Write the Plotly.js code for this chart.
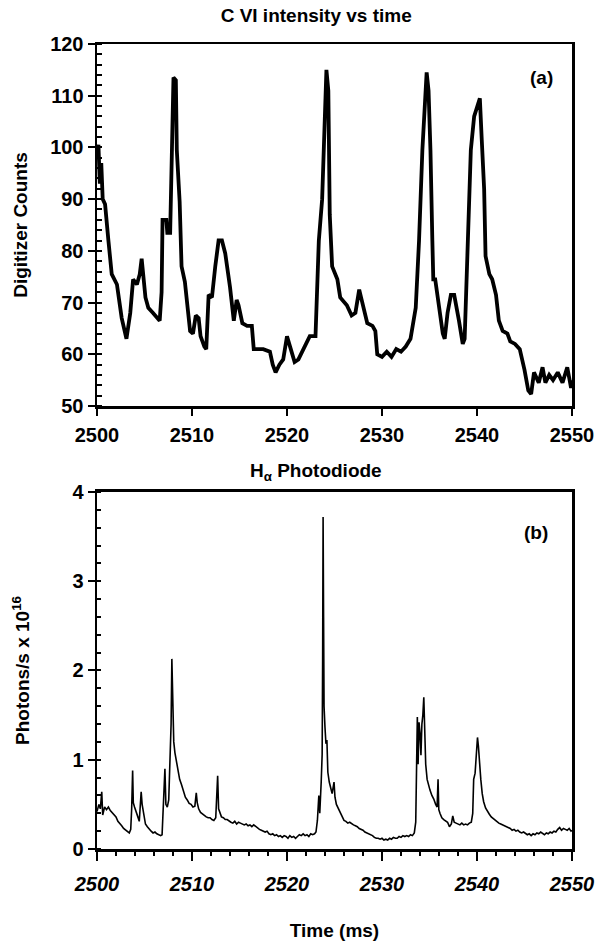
<!DOCTYPE html>
<html>
<head>
<meta charset="utf-8">
<script src="https://cdn.plot.ly/plotly-3.0.1.min.js"></script>
<style>html,body{margin:0;padding:0;background:#fff;}#chart{width:600px;height:944px;}</style>
</head>
<body>
<div id="chart"></div>
<script>
// ---- Panel (a): C VI intensity (digitizer counts) ----
const cviTime = [2500.0,2500.15,2500.3,2500.45,2500.6,2500.85,2501.2,2501.55,2502.1,2502.6,2503.1,2503.5,2503.8,2504.2,2504.5,2504.7,2505.1,2505.4,2505.9,2506.6,2506.8,2506.9,2507.3,2507.4,2507.7,2507.9,2508.05,2508.3,2508.4,2508.7,2508.9,2509.25,2509.8,2510.1,2510.4,2510.7,2510.9,2511.3,2511.5,2511.75,2512.1,2512.45,2512.8,2513.15,2513.5,2514.0,2514.4,2514.7,2514.9,2515.3,2515.8,2516.3,2516.5,2517.0,2517.5,2518.2,2518.5,2518.8,2519.2,2519.6,2520.0,2520.4,2520.8,2521.2,2521.6,2522.0,2522.4,2523.0,2523.35,2523.7,2523.9,2524.15,2524.35,2524.5,2524.75,2525.3,2525.6,2526.3,2526.8,2527.2,2527.6,2528.0,2528.45,2529.0,2529.3,2529.5,2530.0,2530.5,2531.0,2531.5,2532.0,2532.5,2533.0,2533.55,2533.9,2534.25,2534.5,2534.7,2534.9,2535.1,2535.3,2535.4,2535.6,2536.0,2536.4,2536.6,2536.9,2537.25,2537.6,2538.1,2538.5,2538.7,2539.0,2539.35,2539.7,2540.1,2540.3,2540.5,2540.75,2540.9,2541.3,2541.6,2542.0,2542.3,2542.7,2543.2,2543.5,2544.0,2544.5,2545.0,2545.4,2545.7,2546.0,2546.5,2546.9,2547.2,2547.6,2548.0,2548.5,2549.0,2549.5,2549.9,2550.0];
const cviCounts = [99,100.5,93,97,90,89,82,75.5,73.5,67,63,68,74.5,73.5,75.5,78.5,71,69,68,66.5,72,86,86,83.5,83.5,99.5,113.5,113,99.5,89.5,77,74,64.5,64,67.5,67,63.5,61.5,61,71.5,71,77,82,82,79.5,73,66.5,70.5,69.5,66,65.5,65.5,61,61,61,60.5,58,56.5,58,59,63.5,61,58.5,59,60.5,62,63.5,63.5,82,90,99.5,115,111,87,77,74.5,71,69.5,67.5,68,72.5,69.5,66,65.5,64.5,60,59.5,60.5,59.5,61,60.5,61.5,63,69,82,99.5,108,114.5,111,99.5,82,74.5,74.5,69,64,63,68,71.5,71.5,66.5,62,63,79,99.5,106,108,109.5,101.5,92,79,75.5,74.5,71.5,66.5,64.5,64,62.5,62,61,57,53,52.3,56.5,54.5,57.5,54.5,56,55,56.5,54.5,57.5,53.5,55];

// ---- Panel (b): H-alpha photodiode (photons/s x 1e16) ----
const haTime = [2500.0,2500.2,2500.35,2500.5,2500.6,2500.8,2501.0,2501.2,2501.4,2501.6,2501.8,2502.0,2502.2,2502.4,2502.6,2502.8,2503.0,2503.2,2503.4,2503.55,2503.65,2503.75,2503.82,2503.95,2504.1,2504.3,2504.45,2504.55,2504.65,2504.75,2504.9,2505.1,2505.3,2505.5,2505.7,2505.9,2506.1,2506.3,2506.5,2506.7,2506.85,2506.95,2507.05,2507.15,2507.25,2507.4,2507.55,2507.7,2507.8,2507.88,2507.95,2508.0,2508.08,2508.2,2508.35,2508.5,2508.7,2508.9,2509.1,2509.3,2509.5,2509.7,2509.9,2510.1,2510.3,2510.45,2510.55,2510.7,2510.9,2511.1,2511.3,2511.5,2511.7,2511.9,2512.1,2512.3,2512.5,2512.6,2512.7,2512.8,2512.95,2513.1,2513.3,2513.5,2513.7,2513.9,2514.1,2514.3,2514.5,2514.7,2514.9,2515.1,2515.3,2515.5,2515.7,2515.9,2516.1,2516.3,2516.5,2516.7,2516.9,2517.1,2517.3,2517.5,2517.7,2517.9,2518.1,2518.3,2518.5,2518.7,2518.9,2519.1,2519.3,2519.5,2519.7,2519.9,2520.1,2520.3,2520.5,2520.7,2520.9,2521.1,2521.3,2521.5,2521.7,2521.9,2522.1,2522.3,2522.5,2522.7,2522.9,2523.05,2523.2,2523.35,2523.45,2523.6,2523.7,2523.75,2523.8,2523.85,2523.9,2524.0,2524.1,2524.2,2524.3,2524.45,2524.6,2524.75,2524.95,2525.05,2525.2,2525.4,2525.6,2525.8,2526.0,2526.2,2526.4,2526.6,2526.8,2527.0,2527.2,2527.4,2527.6,2527.8,2528.0,2528.2,2528.4,2528.6,2528.8,2529.0,2529.2,2529.4,2529.6,2529.8,2530.0,2530.2,2530.4,2530.6,2530.8,2531.0,2531.2,2531.4,2531.6,2531.8,2532.0,2532.2,2532.4,2532.6,2532.8,2533.0,2533.2,2533.4,2533.55,2533.65,2533.72,2533.8,2533.9,2534.0,2534.1,2534.2,2534.3,2534.4,2534.48,2534.6,2534.75,2534.9,2535.05,2535.25,2535.45,2535.65,2535.8,2535.9,2535.98,2536.1,2536.3,2536.5,2536.7,2536.9,2537.1,2537.3,2537.45,2537.6,2537.8,2538.0,2538.2,2538.4,2538.6,2538.8,2539.0,2539.2,2539.4,2539.55,2539.65,2539.8,2539.95,2540.05,2540.15,2540.25,2540.4,2540.55,2540.7,2540.9,2541.1,2541.3,2541.5,2541.7,2541.9,2542.1,2542.3,2542.5,2542.7,2542.9,2543.1,2543.3,2543.5,2543.7,2543.9,2544.1,2544.3,2544.5,2544.7,2544.9,2545.1,2545.3,2545.5,2545.7,2545.9,2546.1,2546.3,2546.5,2546.7,2546.9,2547.1,2547.3,2547.5,2547.7,2547.9,2548.1,2548.3,2548.5,2548.7,2548.9,2549.1,2549.3,2549.5,2549.7,2549.9,2550.0];
const haPhotons = [0.42,0.50,0.45,0.64,0.38,0.47,0.44,0.47,0.43,0.41,0.38,0.36,0.31,0.29,0.26,0.23,0.21,0.19,0.18,0.22,0.45,0.88,0.52,0.47,0.43,0.36,0.31,0.45,0.64,0.50,0.38,0.28,0.25,0.22,0.20,0.18,0.19,0.17,0.16,0.15,0.16,0.42,0.55,0.90,0.50,0.47,0.55,0.95,1.40,2.13,1.75,1.82,1.20,1.08,0.98,0.87,0.78,0.72,0.64,0.58,0.55,0.51,0.50,0.47,0.48,0.63,0.52,0.45,0.41,0.39,0.38,0.36,0.35,0.35,0.33,0.32,0.35,0.55,0.82,0.45,0.40,0.36,0.35,0.33,0.33,0.31,0.30,0.29,0.31,0.28,0.30,0.29,0.28,0.27,0.28,0.26,0.27,0.25,0.27,0.25,0.24,0.22,0.21,0.20,0.19,0.20,0.17,0.16,0.17,0.15,0.16,0.14,0.15,0.13,0.15,0.14,0.12,0.15,0.13,0.14,0.12,0.14,0.16,0.15,0.17,0.15,0.16,0.14,0.17,0.16,0.17,0.19,0.32,0.60,0.40,0.75,1.06,2.10,3.72,2.60,1.60,1.36,1.18,1.22,0.86,0.75,0.68,0.62,0.75,0.58,0.50,0.45,0.40,0.35,0.32,0.31,0.29,0.30,0.28,0.27,0.26,0.25,0.23,0.22,0.21,0.19,0.18,0.17,0.16,0.15,0.13,0.12,0.12,0.11,0.12,0.10,0.11,0.10,0.12,0.11,0.13,0.12,0.12,0.14,0.13,0.15,0.14,0.15,0.14,0.16,0.15,0.18,0.30,1.10,1.48,0.95,1.42,1.30,1.05,1.40,1.50,1.70,1.25,0.95,0.78,0.70,0.66,0.60,0.56,0.50,0.47,0.78,0.44,0.40,0.35,0.33,0.31,0.30,0.25,0.28,0.37,0.30,0.29,0.28,0.27,0.29,0.27,0.28,0.27,0.29,0.30,0.40,0.78,0.85,1.05,1.25,1.15,0.95,0.78,0.62,0.53,0.46,0.42,0.39,0.36,0.34,0.32,0.31,0.29,0.28,0.27,0.26,0.25,0.24,0.23,0.21,0.22,0.20,0.21,0.19,0.18,0.19,0.17,0.16,0.17,0.15,0.17,0.16,0.18,0.17,0.19,0.17,0.16,0.18,0.17,0.19,0.18,0.20,0.19,0.22,0.24,0.21,0.23,0.22,0.21,0.23,0.20,0.21];

const xTicks = [2500,2510,2520,2530,2540,2550];
const cviTicks = [50,60,70,80,90,100,110,120];
const haTicks = [0,1,2,3,4];

const FONT = '"Liberation Sans",Arial,sans-serif';
const tickFont = {family: FONT, size: 20, color: '#000', weight: 'bold'};
const axisBase = {
  showline: true, linecolor: '#000', linewidth: 2.5, mirror: true,
  showgrid: false, zeroline: false, ticks: 'outside', tickcolor: '#000',
  tickwidth: 2, ticklen: 7, tickfont: tickFont
};

const traces = [
  {x: cviTime, y: cviCounts, xaxis: 'x2', yaxis: 'y2', type: 'scatter', mode: 'lines',
   line: {color: '#000', width: 3.8}, hoverinfo: 'skip'},
  {x: haTime, y: haPhotons, xaxis: 'x', yaxis: 'y', type: 'scatter', mode: 'lines',
   line: {color: '#000', width: 1.6}, hoverinfo: 'skip'}
];

const layout = {
  width: 600, height: 944,
  margin: {l: 97, r: 28, t: 44, b: 95},
  paper_bgcolor: '#fff', plot_bgcolor: '#fff',
  showlegend: false,
  font: {family: FONT, color: '#000'},
  title: {text: 'C VI intensity vs time', x: 0.527, xanchor: 'center', y: 0.984, yanchor: 'middle',
          font: {family: FONT, size: 19, weight: 'bold', color: '#000'}},
  xaxis2: Object.assign({}, axisBase, {
    anchor: 'y2', domain: [0, 1], range: [2500, 2550], tickvals: xTicks, ticktext: xTicks.map(String),
    ticklabelstandoff: 2
  }),
  yaxis2: Object.assign({}, axisBase, {
    anchor: 'x2', domain: [0.5503, 1], range: [50, 120], tickvals: cviTicks, ticktext: cviTicks.map(String),
    minor: {dtick: 2, ticks: 'inside', ticklen: 5, tickwidth: 2, tickcolor: '#000'},
    title: {text: 'Digitizer Counts', standoff: 18, font: {family: FONT, size: 19, weight: 'bold', color: '#000'}}
  }),
  xaxis: Object.assign({}, axisBase, {
    anchor: 'y', domain: [0, 1], range: [2500, 2550], tickvals: xTicks, ticktext: xTicks.map(String),
    ticklen: 9, ticklabelstandoff: 6, tickfont: Object.assign({}, tickFont, {style: 'italic'}),
    minor: {dtick: 2, ticks: 'outside', ticklen: 4, tickwidth: 2, tickcolor: '#000'},
    title: {text: 'Time (ms)', standoff: 30, font: {family: FONT, size: 19, weight: 'bold', color: '#000'}}
  }),
  yaxis: Object.assign({}, axisBase, {
    anchor: 'x', domain: [0, 0.4435], range: [0, 4], tickvals: haTicks, ticktext: haTicks.map(String),
    minor: {dtick: 0.2, ticks: 'inside', ticklen: 4, tickwidth: 2, tickcolor: '#000'},
    title: {text: 'Photons/s x 10<sup>16</sup>', standoff: 38, font: {family: FONT, size: 19, weight: 'bold', color: '#000'}}
  }),
  annotations: [
    {text: 'H<sub>α</sub> Photodiode', xref: 'paper', yref: 'paper', x: 0.46, y: 0.468, xanchor: 'center', yanchor: 'middle',
     showarrow: false, font: {family: FONT, size: 19, weight: 'bold', color: '#000'}},
    {text: '(a)', xref: 'x2', yref: 'y2', x: 2546.8, y: 113.5, xanchor: 'center', yanchor: 'middle',
     showarrow: false, font: {family: FONT, size: 19, weight: 'bold', color: '#000'}},
    {text: '(b)', xref: 'x', yref: 'y', x: 2546.2, y: 3.55, xanchor: 'center', yanchor: 'middle',
     showarrow: false, font: {family: FONT, size: 19, weight: 'bold', color: '#000'}}
  ]
};

Plotly.newPlot('chart', traces, layout, {staticPlot: true, displayModeBar: false});
</script>
</body>
</html>
